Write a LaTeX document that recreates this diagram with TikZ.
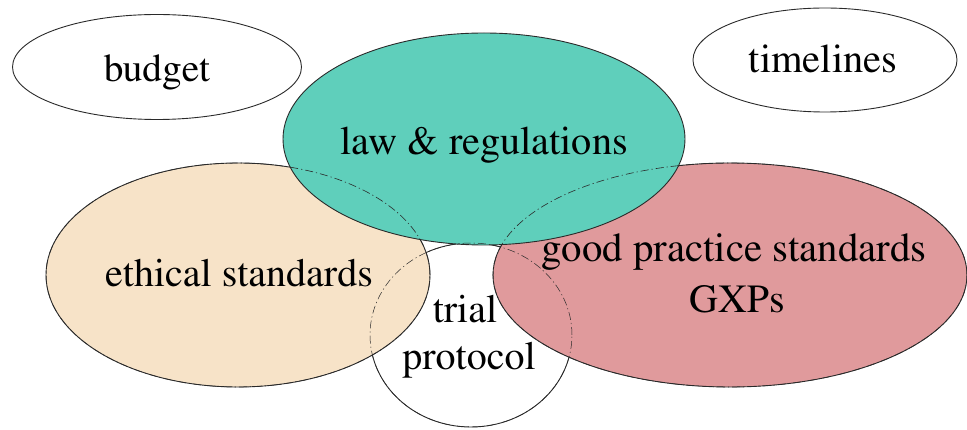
\documentclass[tikz,border=0pt]{standalone}
\usepackage[T1]{fontenc}
\renewcommand{\rmdefault}{ptm}
\usetikzlibrary{shapes.geometric}
\definecolor{tealfill}{HTML}{5FCFBB}
\definecolor{tanfill}{HTML}{F7E3C8}
\definecolor{redfill}{HTML}{E09A9C}
\definecolor{edge}{HTML}{2A2A2A}
\tikzset{
  blob/.style={ellipse, draw=edge, line width=0.9pt, inner sep=0pt, outer sep=0pt},
  hidden/.style={ellipse, draw=edge, line width=0.6pt, inner sep=0pt, outer sep=0pt,
    dash pattern=on 8pt off 3pt on 1.2pt off 3pt},
  lbl/.style={anchor=base, inner sep=0pt, font=\fontsize{40}{48}\selectfont, text=black}
}
\begin{document}
\begin{tikzpicture}[x=1pt, y=-1pt]
\useasboundingbox (0,0) rectangle (967,430);
% side ellipses
\node[blob, fill=white, minimum width=289pt, minimum height=105pt] (budgetE) at (157,67) {};
\node[blob, fill=white, minimum width=264pt, minimum height=104pt] (timeE) at (825,60) {};
% trial protocol circle
\node[blob, fill=white, minimum width=202pt, minimum height=184pt] (trialE) at (471,335) {};
% ethical and GXP
\node[blob, fill=tanfill, minimum width=384pt, minimum height=224pt] (ethE) at (238,275) {};
\node[blob, fill=redfill, minimum width=474pt, minimum height=224pt] (gxpE) at (730,275) {};
% law
\node[blob, fill=tealfill, minimum width=402pt, minimum height=212pt] (lawE) at (484,139) {};
% hidden outlines
\node[hidden, minimum width=384pt, minimum height=224pt] (ethH) at (ethE.center) {};
\node[hidden, minimum width=474pt, minimum height=224pt] (gxpH) at (gxpE.center) {};
\node[hidden, line width=0.5pt, minimum width=202pt, minimum height=184pt] (trialH) at (trialE.center) {};
% labels
\node[lbl, font=\fontsize{39.3}{47}\selectfont] (budgetT) at (157,82) {budget};
\node[lbl, font=\fontsize{40.5}{48}\selectfont] (timeT) at (823,73) {timelines};
\node[lbl, font=\fontsize{40.3}{48}\selectfont] (lawT) at (484,155) {law \& regulations};
\node[lbl] (ethT) at (239,287) {ethical standards};
\node[lbl, font=\fontsize{40.8}{48}\selectfont] (gxpT1) at (734,262) {good practice standards};
\node[lbl] (gxpT2) at (737,313) {GXPs};
\node[lbl] (trialT1) at (465,323) {trial};
\node[lbl] (trialT2) at (469,370) {protocol};
\end{tikzpicture}
\end{document}
